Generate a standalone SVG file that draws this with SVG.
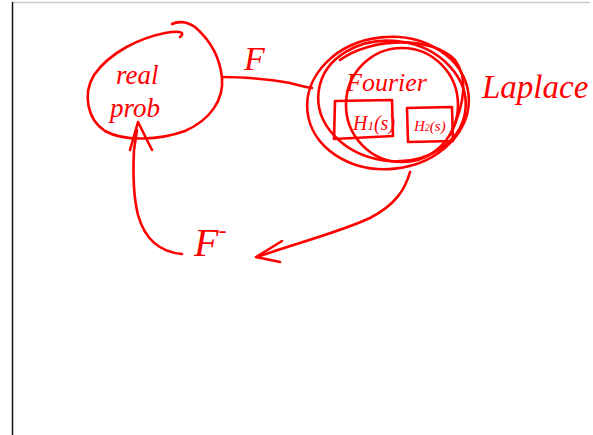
<svg xmlns="http://www.w3.org/2000/svg" width="593" height="435" viewBox="0 0 593 435">
<style>
.s{fill:none;stroke:#ff0000;stroke-width:2.6;stroke-linecap:round;stroke-linejoin:round}
.t{fill:#ff0000;font-family:"Liberation Serif",serif;font-style:italic}
</style>
<rect width="593" height="435" fill="#fff"/>
<line x1="12" y1="2.5" x2="590" y2="2.5" stroke="#c8c8c8" stroke-width="1.5"/>
<line x1="12.5" y1="2" x2="12.5" y2="435" stroke="#111" stroke-width="1.5"/>
<g id="real-prob">
<path class="s" d="M180,37 C185,33 182,30 165,33 C140,38 110,52 94,75 C82,95 88,120 105,131 C125,142 160,140 185,131 C210,120 224,100 222,78 C220,58 210,40 195,27 C185,20 176,22 172,24"/>
<text class="t" x="116" y="84" font-size="27">real</text>
<text class="t" x="110" y="117" font-size="27">prob</text>
</g>
<g id="fourier">
<ellipse class="s" cx="388" cy="103" rx="81" ry="66" transform="rotate(-6 388 103)"/>
<ellipse class="s" cx="392" cy="101" rx="74" ry="60" transform="rotate(8 392 101)"/>
<ellipse class="s" cx="402" cy="105" rx="56" ry="57"/>
<path class="s" d="M340,60 C370,38 430,35 455,60 C470,80 462,110 450,135"/>
<text class="t" x="346" y="91" font-size="26">Fourier</text>
<path class="s" d="M335,101 L392,100 L393,136 L334,139 Z"/>
<text class="t" x="353" y="130" font-size="20">H<tspan font-size="13">1</tspan>(s)</text>
<path class="s" d="M407,108 L452,107 L453,141 L408,142 Z"/>
<text class="t" x="414" y="131" font-size="15">H<tspan font-size="10">2</tspan>(s)</text>
</g>
<g id="laplace">
<text class="t" x="482" y="98" font-size="33">Laplace</text>
</g>
<g id="connectors">
<path class="s" d="M222,77 C240,77 270,79 290,83 C298,85 304,87 312,88"/>
<text class="t" x="244" y="70" font-size="34">F</text>
<path class="s" d="M410,172 C405,190 395,205 370,218 C340,232 300,242 257,257"/>
<path class="s" d="M282,241 L256,257 L280,262"/>
<text class="t" x="194" y="256" font-size="40">F<tspan font-size="24" dy="-18">-</tspan></text>
<path class="s" d="M182,254 C160,252 145,240 138,215 C133,195 133,170 134,150 L137,130"/>
<path class="s" d="M130,150 L138,122 L152,150"/>
</g>
</svg>
